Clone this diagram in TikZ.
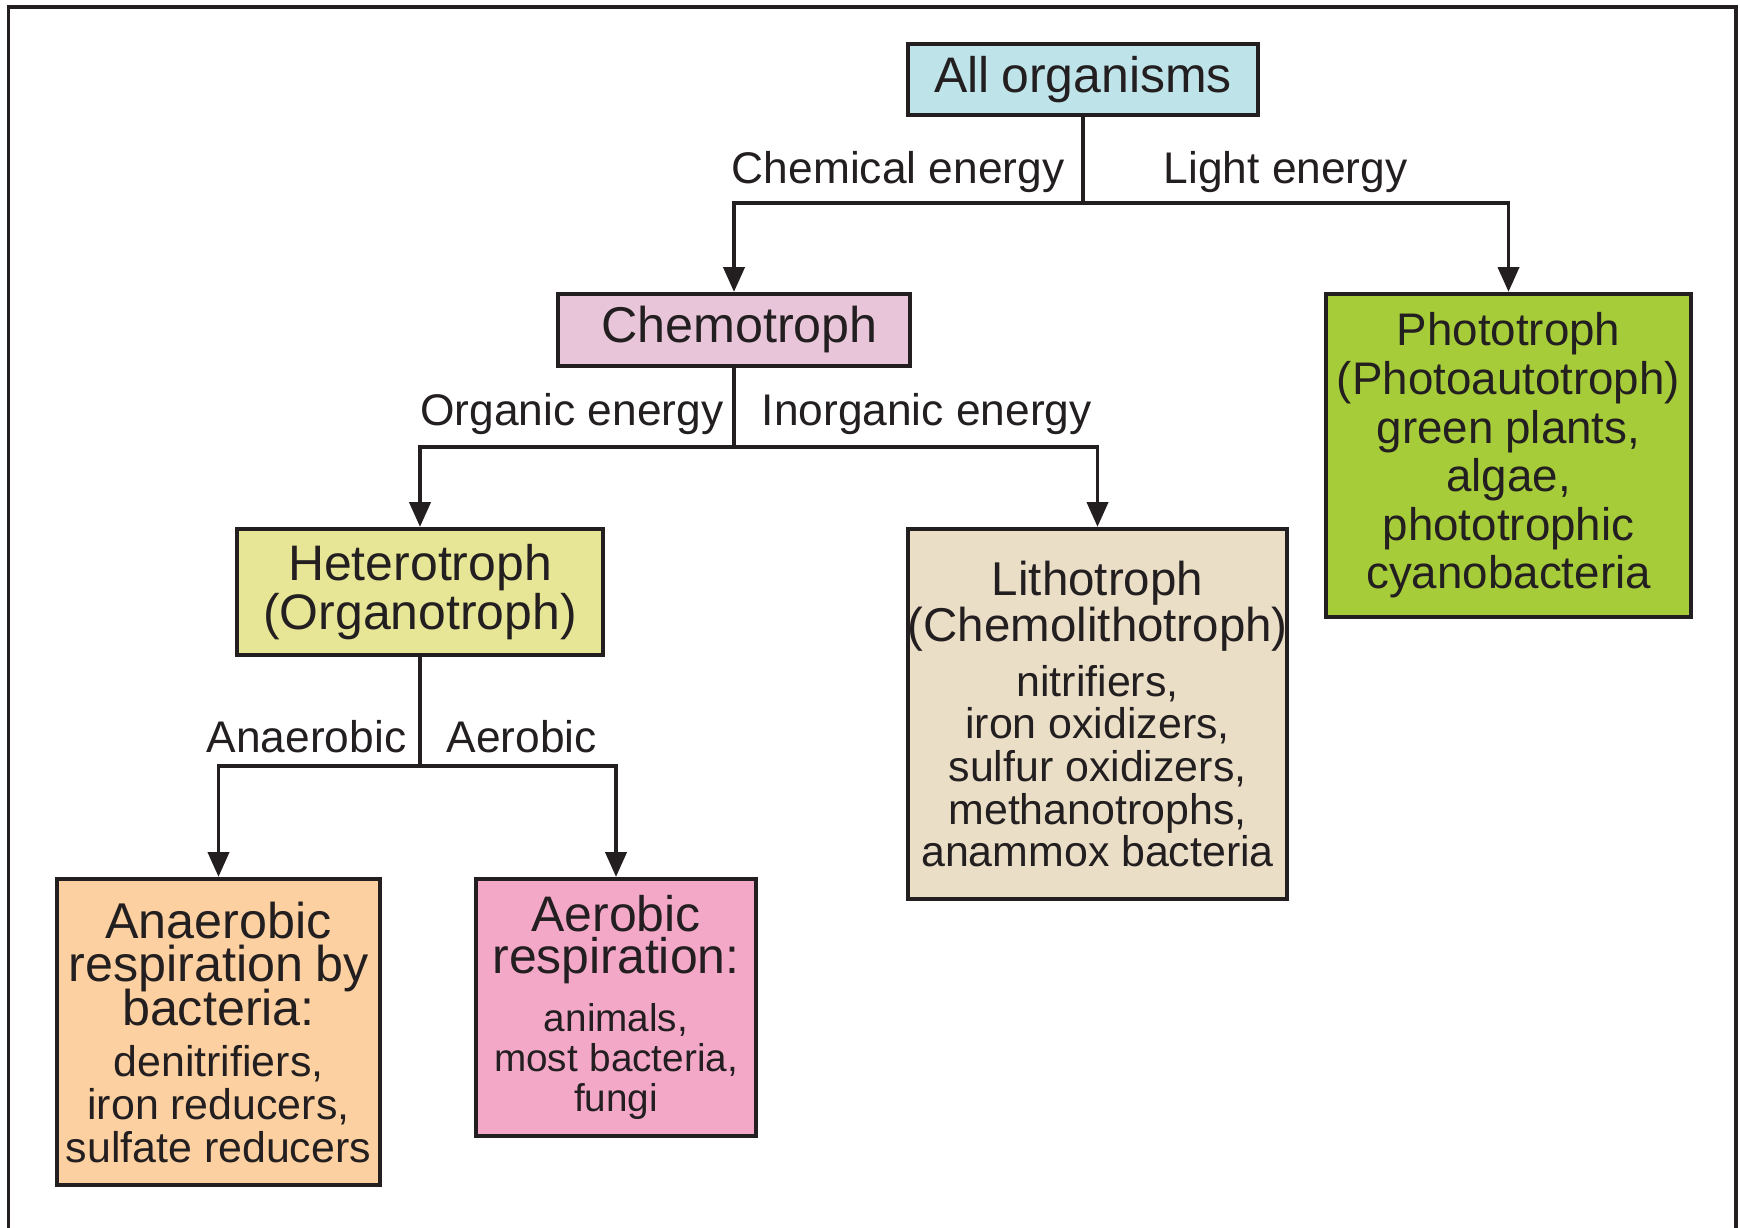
\documentclass[tikz,border=0pt]{standalone}
\usepackage{fontspec}
\setmainfont{Liberation Sans}
\usetikzlibrary{arrows.meta}
\definecolor{ink}{RGB}{35,31,32}
\definecolor{allfill}{RGB}{190,228,233}
\definecolor{chemofill}{RGB}{232,197,217}
\definecolor{photofill}{RGB}{166,204,58}
\definecolor{heterofill}{RGB}{230,230,150}
\definecolor{lithofill}{RGB}{234,222,198}
\definecolor{anaerfill}{RGB}{252,208,160}
\definecolor{aerfill}{RGB}{243,168,200}
\newcommand{\fs}[2]{\fontsize{#1}{#2}\selectfont}
\newcommand{\tightlines}{\lineskiplimit=-20pt\relax\parindent=0pt\relax\parskip=0pt\relax}
\tikzset{
  orgbox/.style={draw=ink, line width=1.2pt, inner sep=0pt, align=center, text=ink, font=\tightlines},
  lbl/.style={inner sep=0pt, text=ink, font=\fs{12.6}{14}},
  conn/.style={draw=ink, line width=0.95pt},
  tip/.style={-{Triangle[length=7pt,width=6pt]}}
}

\begin{document}
\begin{tikzpicture}[x=0.01cm, y=-0.01cm]
\useasboundingbox (0,0) rectangle (1740,1228);
\draw[draw=ink, line width=1pt] (8.5,1228) -- (8.5,7) -- (1736,7) -- (1736,1228);

\node[orgbox, fill=allfill, text width=3.5cm, minimum height=0.71cm] (all) at (1083,79.5)
  {\fs{14.2}{14}All organisms\par};
\node[orgbox, fill=chemofill, text width=3.52cm, minimum height=0.72cm] (chemo) at (734,330)
  {\fs{14.3}{14}\hspace*{0.11cm}Chemotroph\par};
\node[orgbox, fill=photofill, text width=3.65cm, minimum height=3.23cm] (photo) at (1508.5,455.5)
  {\fs{13}{13.8}Phototroph\par (Photoautotroph)\par green plants,\par algae,\par phototrophic\par cyanobacteria\par};
\node[orgbox, fill=heterofill, text width=3.66cm, minimum height=1.26cm] (hetero) at (420,592)
  {\fs{14.2}{13.8}Heterotroph\par (Organotroph)\par};
\node[orgbox, fill=lithofill, text width=3.79cm, minimum height=3.7cm] (litho) at (1097.5,714)
  {\fs{13.5}{13.1}Lithotroph\par (Chemolithotroph)\par\vspace{3.5pt}
   \fs{12.2}{12.1}nitrifiers,\par iron oxidizers,\par sulfur oxidizers,\par methanotrophs,\par anammox bacteria\par};
\node[orgbox, fill=anaerfill, text width=3.23cm, minimum height=3.06cm] (anaer) at (218.5,1032)
  {\fs{14.3}{12.4}Anaerobic\par respiration by\par bacteria:\par\vspace{2.6pt}
   \fs{12.2}{12.1}denitrifiers,\par iron reducers,\par sulfate reducers\par};
\node[orgbox, fill=aerfill, text width=2.8cm, minimum height=2.57cm] (aer) at (616,1007.5)
  {\fs{14.2}{11.8}Aerobic\par respiration:\par\vspace{5pt}
   \fs{11}{11.4}animals,\par most bacteria,\par fungi\par};

\coordinate (j1) at (all.south |- 0,203);
\coordinate (j2) at (chemo.south |- 0,447);
\coordinate (j3) at (hetero.south |- 0,766);

\draw[conn] (all.south) -- (j1);
\draw[conn, tip] (j1) -| (chemo.north);
\draw[conn, tip] (j1) -| (photo.north);
\draw[conn] (chemo.south) -- (j2);
\draw[conn, tip] (j2) -| (hetero.north);
\draw[conn, tip] (j2) -| (litho.north);
\draw[conn] (hetero.south) -- (j3);
\draw[conn, tip] (j3) -| (anaer.north);
\draw[conn, tip] (j3) -| (aer.north);

\node[lbl, anchor=base east] (lchem) at (1065,184) {Chemical energy};
\node[lbl, anchor=base west] (llight) at (1163,184) {Light energy};
\node[lbl, anchor=base east] (lorg) at (724,426) {Organic energy};
\node[lbl, anchor=base west] (linorg) at (761,426) {Inorganic energy};
\node[lbl, anchor=base east] (lanaer) at (407,752) {Anaerobic};
\node[lbl, anchor=base west] (laer) at (446,752) {Aerobic};
\end{tikzpicture}
\end{document}
